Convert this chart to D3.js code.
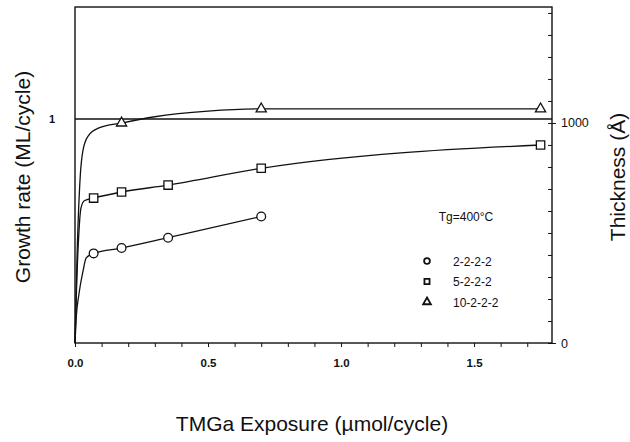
<!DOCTYPE html>
<html>
<head>
<meta charset="utf-8">
<script src="https://cdn.jsdelivr.net/npm/d3@7"></script>
<style>
  body { margin: 0; background: #fff; }
  text { font-family: "Liberation Sans", Arial, sans-serif; fill: #111; }
</style>
</head>
<body>
<svg id="svg"></svg>
<script>
// measured points
const expX = [0.07, 0.175, 0.35, 0.7, 1.75]
const rate2222 = [0.40, 0.424, 0.47, 0.565, null]
const rate5222 = [0.647, 0.674, 0.705, 0.78, 0.884]
const rate10222 = [null, 0.982, null, 1.045, 1.045]

// fitted lines
const fit2222X = [0, 0.004, 0.015, 0.03, 0.042, 0.07, 0.175, 0.35, 0.7]
const fit2222Y = [0, 0.1, 0.22, 0.32, 0.38, 0.40, 0.424, 0.47, 0.565]
const fit5222X = [0, 0.006, 0.015, 0.022, 0.035, 0.07, 0.175, 0.35, 0.7, 1.75]
const fit5222Y = [0, 0.25, 0.5, 0.6, 0.635, 0.647, 0.674, 0.705, 0.78, 0.884]
const fit10222X = [0, 0.008, 0.02, 0.03, 0.05, 0.09, 0.175, 0.3, 0.5, 0.7, 1.2, 1.75]
const fit10222Y = [0, 0.4, 0.75, 0.86, 0.925, 0.96, 0.982, 1.01, 1.035, 1.045, 1.045, 1.045]

const xTicks = [0, 0.1, 0.2, 0.3, 0.4, 0.5, 0.6, 0.7, 0.8, 0.9, 1.0, 1.1, 1.2, 1.3, 1.4, 1.5, 1.6, 1.7]
const xLabels = [0, 0.5, 1.0, 1.5]
const thickTicks = [0, 100, 200, 300, 400, 500, 600, 700, 800, 900, 1000, 1100, 1200, 1300, 1400, 1500]
const thickLabels = [0, 1000]
const legendNames = ["2-2-2-2", "5-2-2-2", "10-2-2-2"]

const svg = d3.select("#svg").attr("width", 630).attr("height", 442)

const x = d3.scaleLinear().domain([0, 1.793]).range([75, 552])
const y = d3.scaleLinear().domain([0, 1.5]).range([343, 7])
const yR = d3.scaleLinear().domain([0, 1527]).range([343, 7])

// frame
svg.append("rect")
  .attr("x", 75).attr("y", 7).attr("width", 477).attr("height", 336)
  .attr("fill", "none").attr("stroke", "#111").attr("stroke-width", 1.4)

// bottom axis
const bottom = svg.append("g").attr("transform", "translate(0,343)")
  .call(d3.axisBottom(x).tickValues(xTicks).tickSize(4)
    .tickFormat(d => xLabels.some(v => Math.abs(v - d) < 1e-9) ? d3.format(".1f")(d) : ""))
bottom.select(".domain").remove()
bottom.selectAll("line").attr("stroke", "#111")
bottom.selectAll("text").attr("font-size", 11.5).attr("font-weight", "bold").attr("dy", "1.45em")

// left axis
const left = svg.append("g").attr("transform", "translate(75,0)")
  .call(d3.axisLeft(y).tickValues([1]).tickSize(0).tickPadding(20).tickFormat(d3.format("d")))
left.select(".domain").remove()
left.selectAll("text").attr("font-size", 11).attr("font-weight", "bold")

// right axis: minor ticks inward, labelled ticks outward
const rightMinor = svg.append("g").attr("transform", "translate(552,0)")
  .call(d3.axisRight(yR).tickValues(thickTicks).tickSize(-4).tickFormat(""))
rightMinor.select(".domain").remove()
rightMinor.selectAll("line").attr("stroke", "#111")

const right = svg.append("g").attr("transform", "translate(552,0)")
  .call(d3.axisRight(yR).tickValues(thickLabels).tickSize(4).tickPadding(5).tickFormat(d3.format("d")))
right.select(".domain").remove()
right.selectAll("line").attr("stroke", "#111")
right.selectAll("text").attr("font-size", 12.5)

// reference line at 1 ML/cycle
svg.append("line")
  .attr("x1", x(0)).attr("x2", x(1.793)).attr("y1", y(1)).attr("y2", y(1))
  .attr("stroke", "#111").attr("stroke-width", 1.3)

// fitted curves
const line = d3.line().x(d => x(d[0])).y(d => y(d[1])).curve(d3.curveMonotoneX)
const fits = [
  d3.zip(fit2222X, fit2222Y),
  d3.zip(fit5222X, fit5222Y),
  d3.zip(fit10222X, fit10222Y)
]
svg.selectAll("path.fit").data(fits).enter().append("path")
  .classed("fit", true)
  .attr("d", line)
  .attr("fill", "none").attr("stroke", "#111").attr("stroke-width", 1.3)

// markers
const symbols = [d3.symbolCircle, d3.symbolSquare, d3.symbolTriangle]
const sizes = [60, 70, 45]
const series = [rate2222, rate5222, rate10222]
series.forEach((vals, k) => {
  const pts = expX.map((v, i) => [v, vals[i]]).filter(d => d[1] != null)
  svg.selectAll("path.m" + k).data(pts).enter().append("path")
    .classed("m" + k, true)
    .attr("d", d3.symbol().type(symbols[k]).size(sizes[k]))
    .attr("transform", d => `translate(${x(d[0])},${y(d[1])})`)
    .attr("fill", "#fff").attr("stroke", "#111").attr("stroke-width", 1.3)
})

// legend
svg.append("text").attr("x", 466).attr("y", 221).attr("text-anchor", "middle")
  .attr("font-size", 12).text("Tg=400°C")
const legend = svg.selectAll("g.legend").data(legendNames).enter().append("g")
  .classed("legend", true)
  .attr("transform", (d, i) => `translate(0,${261 + i * 20.5})`)
legend.append("path")
  .attr("d", (d, i) => d3.symbol().type(symbols[i]).size(26)())
  .attr("transform", "translate(427,0)")
  .attr("fill", "#fff").attr("stroke", "#111").attr("stroke-width", 1.8)
legend.append("text").attr("x", 453).attr("y", 4.5).attr("font-size", 12).text(d => d)

// axis titles
svg.append("text").attr("transform", "translate(30,177) rotate(-90)")
  .attr("text-anchor", "middle").attr("font-size", 21).text("Growth rate (ML/cycle)")
svg.append("text").attr("transform", "translate(625,177) rotate(-90)")
  .attr("text-anchor", "middle").attr("font-size", 21).text("Thickness (Å)")
svg.append("text").attr("x", 312).attr("y", 431)
  .attr("text-anchor", "middle").attr("font-size", 21).text("TMGa Exposure (µmol/cycle)")
</script>
</body>
</html>
